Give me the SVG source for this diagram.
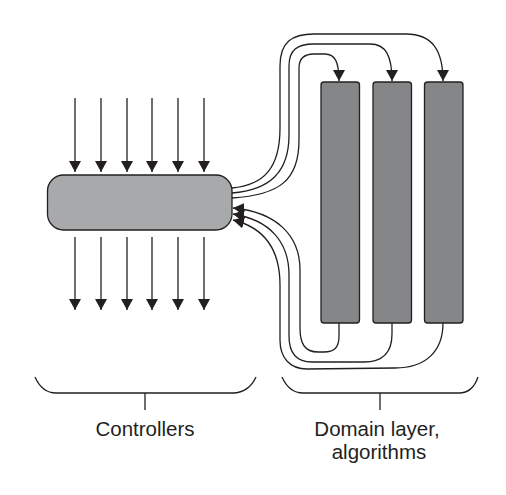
<svg xmlns="http://www.w3.org/2000/svg" width="506" height="495" viewBox="0 0 506 495">
<style>
.ln{fill:none;stroke:#231f20;stroke-width:1.3}
.ar{fill:none;stroke:#231f20;stroke-width:1.3;marker-end:url(#ah)}
.txt{font-family:"Liberation Sans",Arial,sans-serif;font-size:20.5px;fill:#231f20;text-anchor:middle}
</style>
<defs>
<marker id="ah" markerUnits="userSpaceOnUse" markerWidth="12" markerHeight="12" refX="11" refY="6" orient="auto" viewBox="0 0 12 12">
<path d="M0,0 L11,6 L0,12 Z" fill="#231f20"/>
</marker>
</defs>
<g id="connectors">
<path class="ar" d="M75,98 V172"/>
<path class="ar" d="M101,98 V172"/>
<path class="ar" d="M127,98 V172"/>
<path class="ar" d="M152,98 V172"/>
<path class="ar" d="M178,98 V172"/>
<path class="ar" d="M204,98 V172"/>
<path class="ar" d="M75,237 V310"/>
<path class="ar" d="M101,237 V310"/>
<path class="ar" d="M127,237 V310"/>
<path class="ar" d="M152,237 V310"/>
<path class="ar" d="M178,237 V310"/>
<path class="ar" d="M204,237 V310"/>
<path class="ar" d="M232,188 C264,185 280,168 280,128 L280,66 C280,42 292,34 314,34 L406,34 C432,34 443,50 443,81"/>
<path class="ar" d="M232,193 C270,190 289,172 289,135 L289,66 C289,50 297,44 314,44 L370,44 C386,44 392,56 392,81"/>
<path class="ar" d="M232,198 C280,195 299,180 299,140 L299,68 C299,58 305,54 314,54 L325,54 C335,54 339,62 339,81"/>
<path class="ar" d="M339,323 L339,336 C339,348 334,352 324,352 L318,352 C305,352 300,344 300,328 L300,270 C300,235 276,212 233,208"/>
<path class="ar" d="M392,323 L392,334 C392,352 384,362 364,362 L312,362 C296,362 289,352 289,336 L289,275 C289,242 270,220 233,214"/>
<path class="ar" d="M443,323 C443,352 425,368 395,368 L307,369 C290,369 280,358 280,340 L280,285 C280,252 266,228 233,220"/>
</g>
<g id="controllers">
<rect x="47.5" y="175" width="184.5" height="55" rx="16" fill="#a7a9aa" stroke="#231f20" stroke-width="1.3"/>
</g>
<g id="domain1"><rect x="321" y="82" width="38.5" height="241" rx="3" fill="#858688" stroke="#231f20" stroke-width="1.3"/></g>
<g id="domain2"><rect x="373" y="82" width="38.5" height="241" rx="3" fill="#858688" stroke="#231f20" stroke-width="1.3"/></g>
<g id="domain3"><rect x="424.5" y="82" width="38.5" height="241" rx="3" fill="#858688" stroke="#231f20" stroke-width="1.3"/></g>
<g id="brace-controllers">
<path class="ln" d="M35,377 C39,386 46,393 56,393 L233,393 C244,393 252,386 256,377 M145,393 V410"/>
<text class="txt" x="145" y="436">Controllers</text>
</g>
<g id="brace-domain">
<path class="ln" d="M282,377 C286,386 293,393 303,393 L459,393 C469,393 475,386 478,377 M380,393 V410"/>
<text class="txt" x="377" y="436">Domain layer,</text>
<text class="txt" x="379" y="459">algorithms</text>
</g>
</svg>
